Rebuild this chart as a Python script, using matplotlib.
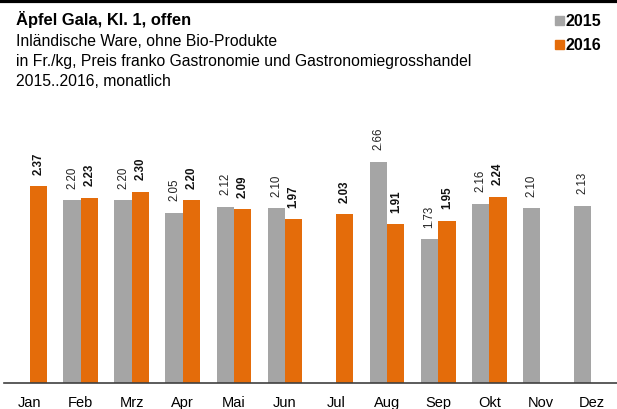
import matplotlib
matplotlib.use("Agg")
import matplotlib.pyplot as plt
import numpy as np
from matplotlib.lines import Line2D
from matplotlib.patches import Rectangle

plt.rcParams['font.family'] = ['Liberation Sans', 'DejaVu Sans']

months = ["Jan", "Feb", "Mrz", "Apr", "Mai", "Jun", "Jul", "Aug", "Sep", "Okt", "Nov", "Dez"]
v2015 = [None, 2.20, 2.20, 2.05, 2.12, 2.10, None, 2.66, 1.73, 2.16, 2.10, 2.13]
v2016 = [2.37, 2.23, 2.30, 2.20, 2.09, 1.97, 2.03, 1.91, 1.95, 2.24, None, None]
series_names = ["2015", "2016"]

GRAY = "#A5A5A5"
ORANGE = "#E46C0A"

W, H = 617, 410
fig = plt.figure(figsize=(W / 100, H / 100), dpi=100)
ax = fig.add_axes([4 / W, (H - 384) / H, (W - 4) / W, (384 - 100) / H])

x = np.arange(len(months))
bw = 0.34
for i in range(len(months)):
    if v2015[i] is not None:
        ax.bar(x[i] - bw / 2, v2015[i], bw, color=GRAY, zorder=2)
        ax.annotate(f"{v2015[i]:.2f}", (x[i] - bw / 2, v2015[i]), xytext=(0, 9),
                    textcoords="offset points", rotation=90, ha="center", va="bottom",
                    fontsize=8.3, color="#222222")
    if v2016[i] is not None:
        ax.bar(x[i] + bw / 2, v2016[i], bw, color=ORANGE, zorder=2)
        ax.annotate(f"{v2016[i]:.2f}", (x[i] + bw / 2, v2016[i]), xytext=(0, 9),
                    textcoords="offset points", rotation=90, ha="center", va="bottom",
                    fontsize=8.3, fontweight="bold", color="#111111")

ax.set_xlim(-0.5, 11.5)
ax.set_ylim(0, 284 / 83.1)
for s in ["top", "right", "left"]:
    ax.spines[s].set_visible(False)
ax.spines["bottom"].set_color("#404040")
ax.spines["bottom"].set_linewidth(1.2)
ax.set_yticks([])
ax.set_xticks(x)
ax.set_xticklabels(months, fontsize=10.5)
ax.tick_params(axis="x", length=0, pad=9)

# top rule
fig.add_artist(Line2D([0, 1], [1 - 1.5 / H, 1 - 1.5 / H], color="black", lw=2.3, transform=fig.transFigure))

fig.text(16 / W, 1 - 20 / H, "Äpfel Gala, Kl. 1, offen", fontsize=11.9, fontweight="bold", va="center")
fig.text(16 / W, 1 - 41 / H, "Inländische Ware, ohne Bio-Produkte", fontsize=11.3, va="center")
fig.text(16 / W, 1 - 61.5 / H, "in Fr./kg, Preis franko Gastronomie und Gastronomiegrosshandel", fontsize=11.3, va="center")
fig.text(16 / W, 1 - 82 / H, "2015..2016, monatlich", fontsize=11.3, va="center")

for j, (name, col) in enumerate(zip(series_names, [GRAY, ORANGE])):
    yc = 21 + j * 24
    fig.add_artist(Rectangle((555 / W, 1 - (yc + 4.5) / H), 9 / W, 9 / H, color=col, transform=fig.transFigure))
    fig.text(566 / W, 1 - yc / H, name, fontsize=11.5, fontweight="bold", va="center")

fig.savefig("out.png", dpi=100)
